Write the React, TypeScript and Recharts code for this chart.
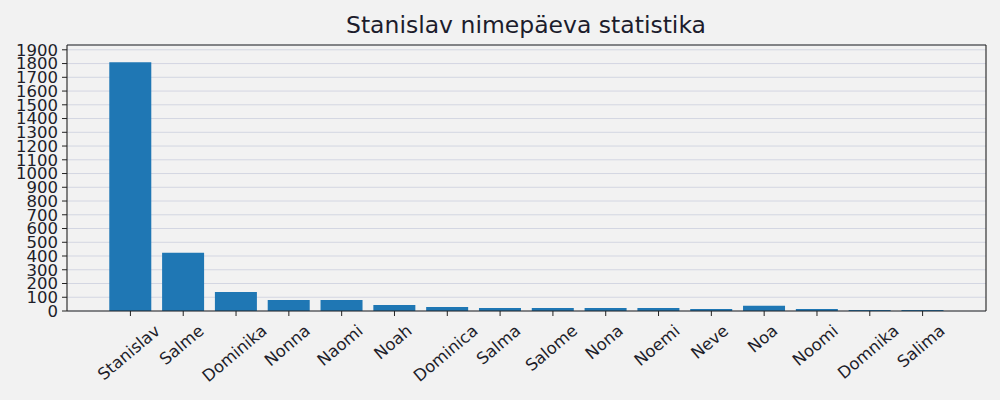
import React from "react";
import { BarChart, Bar, XAxis, YAxis, CartesianGrid, ReferenceLine } from "recharts";

const names = [
  "Stanislav", "Salme", "Dominika", "Nonna", "Naomi", "Noah", "Dominica", "Salma",
  "Salome", "Nona", "Noemi", "Neve", "Noa", "Noomi", "Domnika", "Salima",
];
const counts = [1810, 424, 139, 80, 80, 44, 29, 22, 22, 22, 22, 15, 39, 14, 7, 7];
const yTicks = [0, 100, 200, 300, 400, 500, 600, 700, 800, 900, 1000, 1100, 1200, 1300, 1400, 1500, 1600, 1700, 1800, 1900];
const yMax = 1935;
const title = "Stanislav nimepäeva statistika";

const data = names.map((name, i) => ({ name, count: counts[i] }));

const FONT = "'DejaVu Sans', sans-serif";
const TICK_SIZE = 16.5;
const TEXT_COLOR = "#1e1e2a";

let ctx: CanvasRenderingContext2D | null = null;
function measure(text: string): number {
  if (!ctx) {
    const c = document.createElement("canvas");
    ctx = c.getContext("2d");
  }
  if (!ctx) return text.length * TICK_SIZE * 0.6;
  ctx.font = `${TICK_SIZE}px "DejaVu Sans"`;
  return ctx.measureText(text).width;
}

const ANGLE = 40;
const RotTick = (props: any) => {
  const { x, y, payload } = props;
  const text = String(payload.value);
  const L = measure(text);
  const h = TICK_SIZE * 1.17;
  const rad = (ANGLE * Math.PI) / 180;
  const bboxH = L * Math.sin(rad) + h * Math.cos(rad);
  const cy = y + bboxH / 2;
  const cx = x - 1.5;
  return (
    <text
      x={cx}
      y={cy}
      textAnchor="middle"
      dominantBaseline="central"
      fontFamily={FONT}
      fontSize={TICK_SIZE}
      fill={TEXT_COLOR}
      transform={`rotate(-${ANGLE}, ${cx}, ${cy})`}
    >
      {text}
    </text>
  );
};

export default function App() {
  return (
    <div style={{ position: "absolute", left: 0, top: 0, width: 1000, height: 400, background: "#f2f2f2" }}>
      <svg width={1000} height={40} style={{ position: "absolute", left: 0, top: 0 }}>
        <text x={526} y={33} textAnchor="middle" fontFamily={FONT} fontSize={23.5} fill="#1c1c2c">
          {title}
        </text>
      </svg>
      <BarChart
        width={1000}
        height={400}
        data={data}
        margin={{ top: 45, right: 13, bottom: 0, left: 0 }}
        style={{ position: "absolute", left: 0, top: 0 }}
      >
        <CartesianGrid vertical={false} stroke="#d3d6e2" strokeWidth={1} />
        <XAxis
          dataKey="name"
          interval={0}
          height={89}
          padding={{ left: 37, right: 37 }}
          tickSize={5}
          tickMargin={5}
          tick={<RotTick />}
          tickLine={{ stroke: "#222" }}
          axisLine={{ stroke: "#222", strokeWidth: 1.1 }}
        />
        <YAxis
          domain={[0, yMax]}
          ticks={yTicks}
          interval={0}
          width={67}
          tickSize={5}
          tickMargin={4}
          allowDataOverflow
          tick={{ fontFamily: FONT, fontSize: TICK_SIZE, fill: TEXT_COLOR }}
          tickLine={{ stroke: "#222" }}
          axisLine={{ stroke: "#222", strokeWidth: 1.1 }}
        />
        <YAxis
          yAxisId="right"
          orientation="right"
          width={1}
          domain={[0, yMax]}
          allowDataOverflow
          tick={false}
          tickLine={false}
          axisLine={{ stroke: "#222", strokeWidth: 1.1 }}
        />
        <Bar dataKey="count" fill="#1f77b4" isAnimationActive={false} />
        <ReferenceLine y={yMax} stroke="#222" strokeWidth={1.1} ifOverflow="visible" />
      </BarChart>
    </div>
  );
}
